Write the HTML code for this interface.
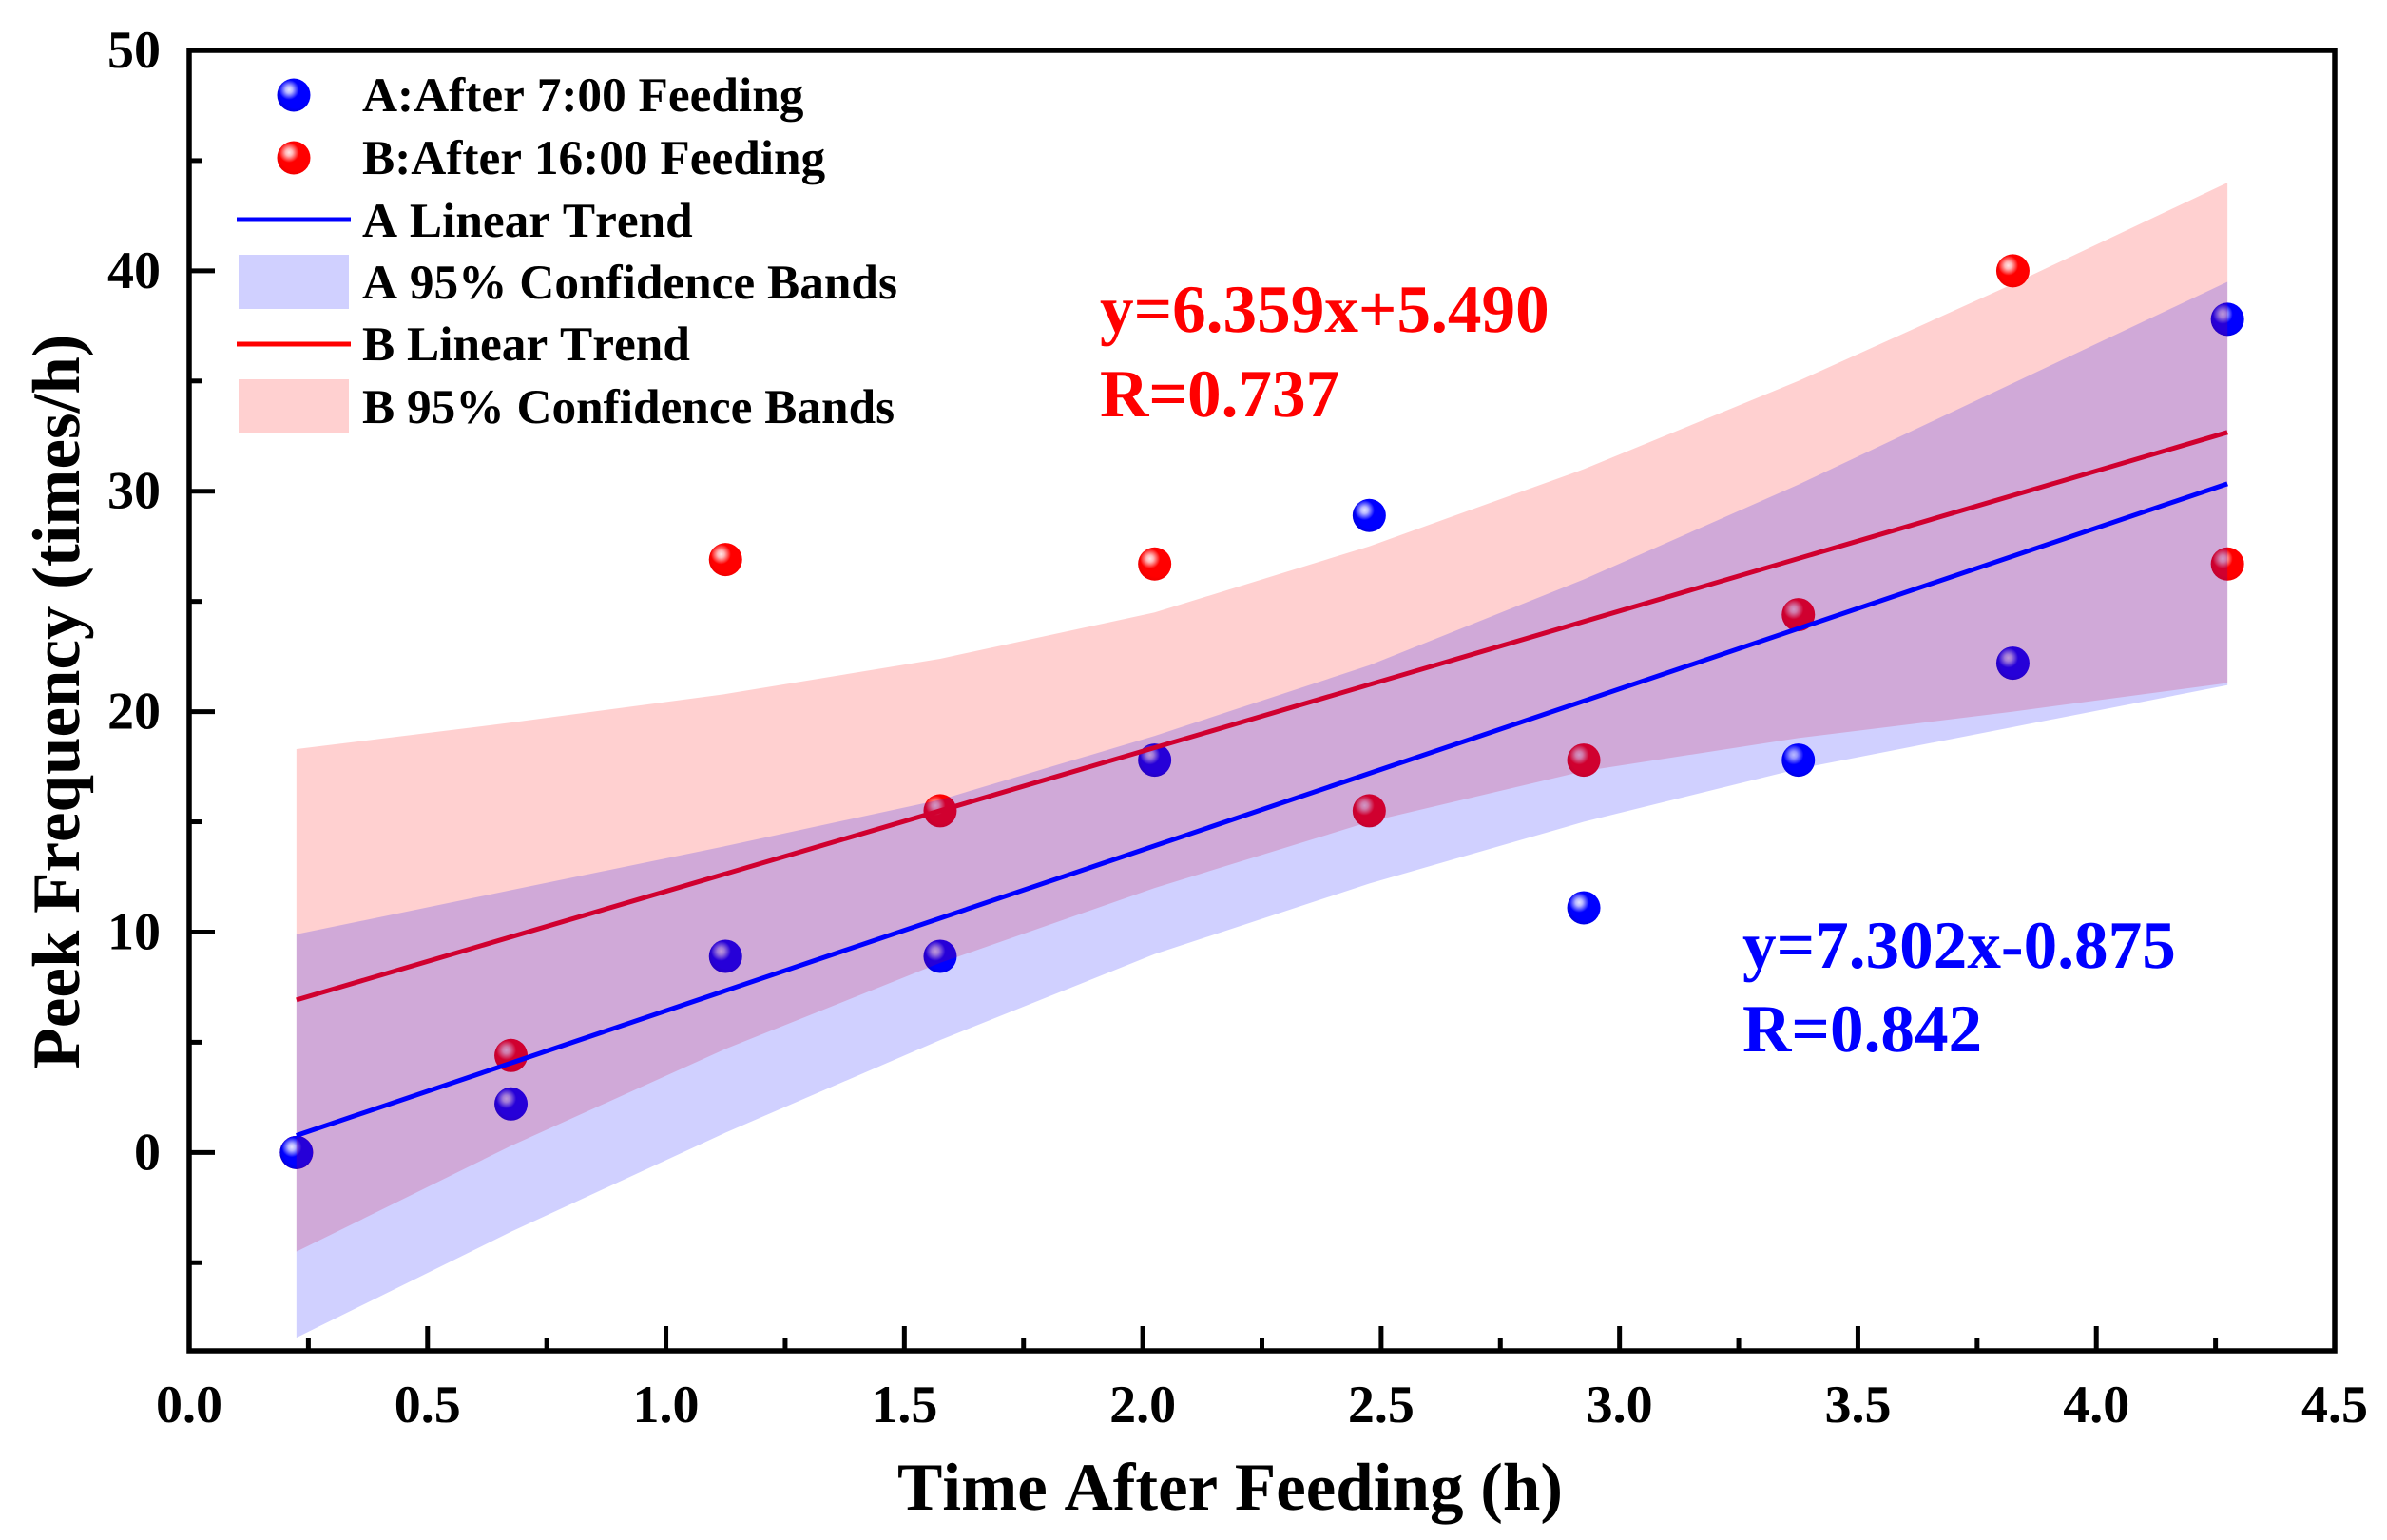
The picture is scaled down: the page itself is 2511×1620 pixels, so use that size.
<!DOCTYPE html>
<html lang="en">
<head>
<meta charset="utf-8">
<title>Peek Frequency vs Time After Feeding</title>
<style>
html,body{margin:0;padding:0;background:#fff;}
svg{display:block;}
text{font-family:"Liberation Serif",serif;font-weight:bold;font-kerning:none;font-feature-settings:"kern" 0;text-rendering:geometricPrecision;}
</style>
</head>
<body>
<svg id="chart" xmlns="http://www.w3.org/2000/svg" width="2511" height="1620" viewBox="0 0 2511 1620">
  <defs>
    <radialGradient id="baseBlue" cx="0.55" cy="0.45" r="0.62">
      <stop offset="0.7" stop-color="#0000ff"/>
      <stop offset="1" stop-color="#0000d4"/>
    </radialGradient>
    <radialGradient id="baseRed" cx="0.55" cy="0.45" r="0.62">
      <stop offset="0.7" stop-color="#ff0000"/>
      <stop offset="1" stop-color="#e80000"/>
    </radialGradient>
    <radialGradient id="shine" cx="0.36" cy="0.34" r="0.3">
      <stop offset="0" stop-color="#ffffff" stop-opacity="0.9"/>
      <stop offset="0.35" stop-color="#ffffff" stop-opacity="0.72"/>
      <stop offset="1" stop-color="#ffffff" stop-opacity="0"/>
    </radialGradient>
  </defs>
  <rect x="0" y="0" width="2511" height="1620" fill="#ffffff"/>
  <g id="pointsLayer"></g>
  <g id="redLineLayer"></g>
  <g id="bandLayer"></g>
  <g id="blueLineLayer"></g>
  <g id="axisLayer"></g>

  <text x="1294" y="1588" font-size="71" text-anchor="middle" fill="#000">Time After Feeding (h)</text>
  <text x="0" y="0" font-size="71" text-anchor="middle" fill="#000" transform="translate(83 738) rotate(-90)">Peek Frequency (times/h)</text>

  <g fill="#ff0000" font-size="71.2">
    <text x="1157" y="349">y=6.359x+5.490</text>
    <text x="1157" y="438">R=0.737</text>
  </g>
  <g fill="#0000ff" font-size="71.2">
    <text x="1833" y="1018">y=7.302x-0.875</text>
    <text x="1833" y="1106">R=0.842</text>
  </g>

  <g font-size="51.3" fill="#000">
    <g>
      <circle cx="309" cy="100" r="17.5" fill="url(#baseBlue)"/>
      <circle cx="309" cy="100" r="17.5" fill="url(#shine)"/>
      <text x="381" y="117">A:After 7:00 Feeding</text>
    </g>
    <g>
      <circle cx="309" cy="166" r="17.5" fill="url(#baseRed)"/>
      <circle cx="309" cy="166" r="17.5" fill="url(#shine)"/>
      <text x="381" y="183">B:After 16:00 Feeding</text>
    </g>
    <g>
      <line x1="249" x2="369" y1="231" y2="231" stroke="#0000ff" stroke-width="5"/>
      <text x="381" y="249">A Linear Trend</text>
    </g>
    <g>
      <rect x="251" y="268" width="116" height="57" fill="#0000ff" fill-opacity="0.185"/>
      <text x="381" y="314">A 95% Confidence Bands</text>
    </g>
    <g>
      <line x1="249" x2="369" y1="362" y2="362" stroke="#ff0000" stroke-width="5"/>
      <text x="381" y="379">B Linear Trend</text>
    </g>
    <g>
      <rect x="251" y="399" width="116" height="57" fill="#ff0000" fill-opacity="0.185"/>
      <text x="381" y="445">B 95% Confidence Bands</text>
    </g>
  </g>
</svg>
<script>
var timeValues = [0.225, 0.675, 1.125, 1.575, 2.025, 2.475, 2.925, 3.375, 3.825, 4.275];
var seriesA = [0, 2.2, 8.9, 8.9, 17.8, 28.9, 11.1, 17.8, 22.2, 37.8];
var seriesB = [0, 4.4, 26.9, 15.5, 26.7, 15.5, 17.8, 24.4, 40, 26.7];
var bandAUpper = [9.9, 11.9, 13.9, 16.0, 18.9, 22.1, 26.0, 30.3, 34.9, 39.5];
var bandALower = [-8.4, -3.6, 0.9, 5.1, 9.0, 12.2, 15.0, 17.4, 19.3, 21.2];
var bandBUpper = [18.3, 19.5, 20.8, 22.4, 24.5, 27.5, 31.0, 35.0, 39.4, 44.0];
var bandBLower = [-4.5, 0.3, 4.7, 8.6, 12.0, 15.0, 17.3, 18.8, 20.0, 21.3];
var trendX = [0.225, 4.275];
var trendA = [0.77, 30.34];
var trendB = [6.92, 32.67];
var xTickValues = [0, 0.5, 1, 1.5, 2, 2.5, 3, 3.5, 4, 4.5];
var xTickLabels = ['0.0', '0.5', '1.0', '1.5', '2.0', '2.5', '3.0', '3.5', '4.0', '4.5'];
var xMinorTicks = [0.25, 0.75, 1.25, 1.75, 2.25, 2.75, 3.25, 3.75, 4.25];
var yTickValues = [0, 10, 20, 30, 40, 50];
var yTickLabels = ['0', '10', '20', '30', '40', '50'];
var yMinorTicks = [-5, 5, 15, 25, 35, 45];

var plotLeft = 199, plotRight = 2456, plotTop = 53, plotBottom = 1421;
var xMin = 0, xMax = 4.5, yMin = -9, yMax = 50;
function sx(v) { return plotLeft + (v - xMin) / (xMax - xMin) * (plotRight - plotLeft); }
function sy(v) { return plotBottom - (v - yMin) / (yMax - yMin) * (plotBottom - plotTop); }

var NS = 'http://www.w3.org/2000/svg';
function mk(tag, parent, attrs) {
  var el = document.createElementNS(NS, tag);
  for (var k in attrs) { el.setAttribute(k, attrs[k]); }
  parent.appendChild(el);
  return el;
}

function drawSpheres(values, base, label, parent) {
  values.forEach(function (v, i) {
    var c = mk('circle', parent, { cx: sx(timeValues[i]), cy: sy(v), r: 17.5, fill: 'url(#' + base + ')' });
    
    
    var s = mk('circle', parent, { cx: sx(timeValues[i]), cy: sy(v), r: 17.5, fill: 'url(#shine)' });
    
    
  });
}

function drawBand(upper, lower, color, label, parent) {
  var pts = [];
  upper.forEach(function (v, i) { pts.push(sx(timeValues[i]) + ',' + sy(v)); });
  for (var i = lower.length - 1; i >= 0; i--) { pts.push(sx(timeValues[i]) + ',' + sy(lower[i])); }
  var p = mk('polygon', parent, { points: pts.join(' '), fill: color, 'fill-opacity': 0.185 });
  
  
}

function drawTrend(values, color, label, parent) {
  var l = mk('line', parent, { x1: sx(trendX[0]), y1: sy(values[0]), x2: sx(trendX[1]), y2: sy(values[1]), stroke: color, 'stroke-width': 5 });
  
  
}

var pointsLayer = document.getElementById('pointsLayer');
drawSpheres(seriesB, 'baseRed', 'series-b', pointsLayer);
drawSpheres(seriesA, 'baseBlue', 'series-a', pointsLayer);
drawTrend(trendB, '#ff0000', 'b-linear-trend', document.getElementById('redLineLayer'));
var bandLayer = document.getElementById('bandLayer');
drawBand(bandBUpper, bandBLower, '#ff0000', 'b-confidence-band', bandLayer);
drawBand(bandAUpper, bandALower, '#0000ff', 'a-confidence-band', bandLayer);
drawTrend(trendA, '#0000ff', 'a-linear-trend', document.getElementById('blueLineLayer'));

var axisLayer = document.getElementById('axisLayer');
var frame = mk('rect', axisLayer, { x: plotLeft, y: plotTop, width: plotRight - plotLeft, height: plotBottom - plotTop, fill: 'none', stroke: '#000', 'stroke-width': 5.5 });



xTickValues.forEach(function (v, i) {
  var t = mk('line', axisLayer, { x1: sx(v), x2: sx(v), y1: plotBottom, y2: plotBottom - 26, stroke: '#000', 'stroke-width': 5 });
  
  
  var l = mk('text', axisLayer, { x: sx(v), y: 1496, 'font-size': 56, 'text-anchor': 'middle', fill: '#000' });
  
  
  l.textContent = xTickLabels[i];
});
xMinorTicks.forEach(function (v) {
  var t = mk('line', axisLayer, { x1: sx(v), x2: sx(v), y1: plotBottom, y2: plotBottom - 13, stroke: '#000', 'stroke-width': 5 });
  
  
});
yTickValues.forEach(function (v, i) {
  var t = mk('line', axisLayer, { x1: plotLeft, x2: plotLeft + 27, y1: sy(v), y2: sy(v), stroke: '#000', 'stroke-width': 5 });
  
  
  var l = mk('text', axisLayer, { x: 169, y: sy(v) + 18, 'font-size': 56, 'text-anchor': 'end', fill: '#000' });
  
  
  l.textContent = yTickLabels[i];
});
yMinorTicks.forEach(function (v) {
  var t = mk('line', axisLayer, { x1: plotLeft, x2: plotLeft + 14, y1: sy(v), y2: sy(v), stroke: '#000', 'stroke-width': 5 });
  
  
});
</script>
</body>
</html>
